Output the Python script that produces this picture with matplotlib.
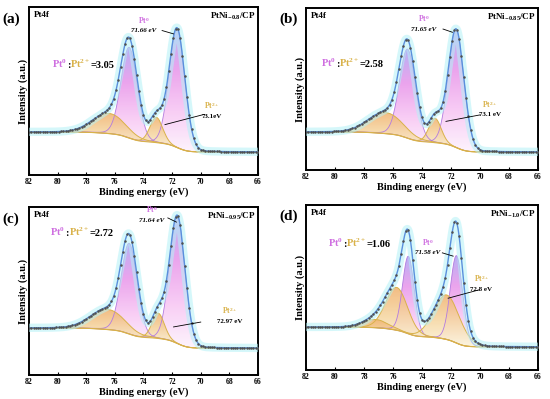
import numpy as np
import matplotlib
matplotlib.use('Agg')
import matplotlib.pyplot as plt
from matplotlib.colors import LinearSegmentedColormap

plt.rcParams['font.family'] = 'Liberation Serif'
plt.rcParams['font.weight'] = 'bold'
plt.rcParams['mathtext.fontset'] = 'custom'
plt.rcParams['mathtext.rm'] = 'Liberation Serif:bold'
plt.rcParams['mathtext.bf'] = 'Liberation Serif:bold'
plt.rcParams['mathtext.it'] = 'Liberation Serif:bold:italic'

# fitted components per sample: centre (eV), height above background, FWHM (eV), species
a_centers = [71.66, 75.00, 73.10, 76.40]
a_heights = [0.71, 0.54, 0.15, 0.12]
a_fwhm = [1.30, 1.35, 1.05, 2.70]
a_kind = ['Pt0', 'Pt0', 'Pt2', 'Pt2']
a_bg = [0.256, 0.137]   # background level at 82 eV and at 66 eV
a_ratio = '3.05'
a_pt0 = '71.66 eV'
a_pt2 = '73.1eV'
a_name = r'PtNi$_{\mathbf{-0.8}}$/CP'

b_centers = [71.65, 75.00, 73.10, 76.50]
b_heights = [0.73, 0.55, 0.15, 0.13]
b_fwhm = [1.28, 1.32, 1.00, 2.80]
b_kind = ['Pt0', 'Pt0', 'Pt2', 'Pt2']
b_bg = [0.235, 0.111]
b_ratio = '2.58'
b_pt0 = '71.65 eV'
b_pt2 = '73.1 eV'
b_name = r'PtNi$_{\mathbf{-0.85}}$/CP'

c_centers = [71.64, 75.00, 72.97, 76.50]
c_heights = [0.76, 0.54, 0.15, 0.12]
c_fwhm = [1.28, 1.32, 1.00, 2.80]
c_kind = ['Pt0', 'Pt0', 'Pt2', 'Pt2']
c_bg = [0.280, 0.160]
c_ratio = '2.72'
c_pt0 = '71.64 eV'
c_pt2 = '72.97 eV'
c_name = r'PtNi$_{\mathbf{-0.95}}$/CP'

d_centers = [71.62, 74.94, 72.30, 75.75, 77.20]
d_heights = [0.53, 0.47, 0.27, 0.26, 0.05]
d_fwhm = [1.00, 0.95, 2.10, 1.80, 2.00]
d_kind = ['Pt0', 'Pt0', 'Pt2', 'Pt2', 'Pt2']
d_bg = [0.260, 0.140]
d_ratio = '1.06'
d_pt0 = '71.58 eV'
d_pt2 = '72.8 eV'
d_name = r'PtNi$_{\mathbf{-1.0}}$/CP'

PT0_COL = '#cf6fe0'
PT2_COL = '#d9b24a'
pt0_cmap = LinearSegmentedColormap.from_list('pt0', ['#fdf2fd', '#f7c4f3', '#e894ea', '#a9a2f2'])
pt2_cmap = LinearSegmentedColormap.from_list('pt2', ['#fbf6dc', '#f6d6a0', '#f0b06c'])


def pvoigt(x, c, h, w, eta=0.06):
    g = np.exp(-4 * np.log(2) * ((x - c) / w) ** 2)
    l = 1.0 / (1 + 4 * ((x - c) / w) ** 2)
    return h * ((1 - eta) * g + eta * l)


def gradient_fill(ax, x, y0, y1, cmap, top):
    poly = ax.fill_between(x, y0, y1, facecolor='none', edgecolor='none')
    grad = np.linspace(0, 1, 256).reshape(-1, 1)
    im = ax.imshow(grad, cmap=cmap, origin='lower', aspect='auto',
                   extent=[x.min(), x.max(), y0.min(), top], alpha=0.85, zorder=1)
    im.set_clip_path(poly.get_paths()[0], transform=ax.transData)


def draw_panel(ax, centers, heights, fwhm, kind, bg, ratio, pt0, pt2, name, tag, spots):
    x = np.linspace(66, 82, 801)
    comps = [pvoigt(x, c, h, w) for c, h, w in zip(centers, heights, fwhm)]
    total = np.sum(comps, axis=0)
    # Shirley-type background: rises toward high binding energy with the integrated peak area
    cum = np.cumsum(total)
    cum = cum / cum[-1]
    back = bg[1] + (bg[0] - bg[1]) * cum
    env = back + total

    for comp, k in zip(comps, kind):
        top = back + comp
        if k == 'Pt0':
            gradient_fill(ax, x, back, top, pt0_cmap, top.max())
            ax.plot(x, top, color='#b27be0', lw=0.6, zorder=3)
        else:
            gradient_fill(ax, x, back, top, pt2_cmap, top.max())
            ax.plot(x, top, color=PT2_COL, lw=0.7, zorder=3)
    ax.plot(x, back, color=PT2_COL, lw=0.8, zorder=3)

    ax.plot(x, env, color='#b4f2f7', lw=6, alpha=0.55, zorder=4, solid_capstyle='butt')
    ax.plot(x, env, color='#5a8fdc', lw=1.0, zorder=5)
    ax.plot(x[::8], env[::8], 'o', ms=0.8, color='#505050', zorder=6)

    ax.set_xlim(82, 66)
    ax.set_ylim(0, 1)
    ax.set_xticks(np.arange(82, 65, -2))
    ax.set_yticks([])
    ax.tick_params(axis='x', direction='in', length=2, labelsize=5.5, pad=2, width=0.8)
    for s in ax.spines.values():
        s.set_linewidth(1.4)
    ax.set_xlabel('Binding energy (eV)', fontsize=7.5, fontweight='bold', labelpad=1)
    ax.set_ylabel('Intensity (a.u.)', fontsize=7.5, fontweight='bold', labelpad=1)

    ax.text(0.02, 0.975, 'Pt4f', transform=ax.transAxes, fontsize=6.5, va='top', ha='left')
    ax.text(0.99, 0.975, name, transform=ax.transAxes, fontsize=6.5, va='top', ha='right')
    ax.text(-0.115, 0.97, tag, transform=ax.transAxes, fontsize=11, va='top', ha='left')

    # ratio text in three colours, each piece starting where the previous one ends
    rx, ry = spots['ratio']
    kw = dict(fontsize=7.5, va='bottom', zorder=8)
    t1 = ax.text(rx, ry, r'Pt$^{0}$', color=PT0_COL, fontsize=7.5, va='baseline', zorder=8)
    t2 = ax.annotate(':', xy=(1, 0), xycoords=t1, color='black', **kw)
    t3 = ax.annotate(r'Pt$^{2+}$', xy=(1, 0), xycoords=t2, color=PT2_COL, **kw)
    ax.annotate('=' + ratio, xy=(1, 0), xycoords=t3, color='black', **kw)

    lx, ly = spots['pt0']
    ax.text(lx, ly, r'Pt$^{0}$', color=PT0_COL, fontsize=5.5, ha='center', va='bottom', zorder=8)
    ax.text(lx, ly - 0.015, pt0, fontsize=5, ha='center', va='top', style='italic', zorder=8)
    (x0, y0), (x1, y1) = spots['pt0_line']
    ax.plot([x0, x1], [y0, y1], color='black', lw=0.6, zorder=7)

    lx, ly = spots['pt2']
    ax.text(lx, ly, r'Pt$^{2+}$', color=PT2_COL, fontsize=5.5, ha='center', va='bottom', zorder=8)
    ax.text(lx, ly - 0.015, pt2, fontsize=5, ha='center', va='top', zorder=8)
    (x0, y0), (x1, y1) = spots['pt2_line']
    ax.plot([x0, x1], [y0, y1], color='black', lw=0.6, zorder=7)


fig = plt.figure(figsize=(5.5, 3.99), dpi=100)
ax_a = fig.add_axes([0.0527, 0.5614, 0.4164, 0.421])
ax_b = fig.add_axes([0.5564, 0.574, 0.4218, 0.406])
ax_c = fig.add_axes([0.0527, 0.0602, 0.4164, 0.421])
ax_d = fig.add_axes([0.5564, 0.0727, 0.4218, 0.4135])

draw_panel(ax_a, a_centers, a_heights, a_fwhm, a_kind, a_bg, a_ratio, a_pt0, a_pt2, a_name, '(a)',
           {'ratio': (80.4, 0.635), 'pt0': (74.0, 0.89), 'pt0_line': ((72.7, 0.86), (71.9, 0.84)),
            'pt2': (69.2, 0.38), 'pt2_line': ((72.5, 0.30), (69.8, 0.36))})
draw_panel(ax_b, b_centers, b_heights, b_fwhm, b_kind, b_bg, b_ratio, b_pt0, b_pt2, b_name, '(b)',
           {'ratio': (81.0, 0.635), 'pt0': (73.9, 0.90), 'pt0_line': ((72.55, 0.87), (71.9, 0.85)),
            'pt2': (69.3, 0.37), 'pt2_line': ((72.35, 0.30), (70.0, 0.34))})
draw_panel(ax_c, c_centers, c_heights, c_fwhm, c_kind, c_bg, c_ratio, c_pt0, c_pt2, c_name, '(c)',
           {'ratio': (80.5, 0.825), 'pt0': (73.4, 0.95), 'pt0_line': ((72.3, 0.935), (71.7, 0.91)),
            'pt2': (68.0, 0.35), 'pt2_line': ((71.9, 0.286), (70.0, 0.315))})
draw_panel(ax_d, d_centers, d_heights, d_fwhm, d_kind, d_bg, d_ratio, d_pt0, d_pt2, d_name, '(d)',
           {'ratio': (80.5, 0.745), 'pt0': (73.6, 0.74), 'pt0_line': ((72.6, 0.71), (71.85, 0.69)),
            'pt2': (69.9, 0.52), 'pt2_line': ((72.2, 0.435), (70.1, 0.485))})

fig.savefig('out.png', dpi=100)
